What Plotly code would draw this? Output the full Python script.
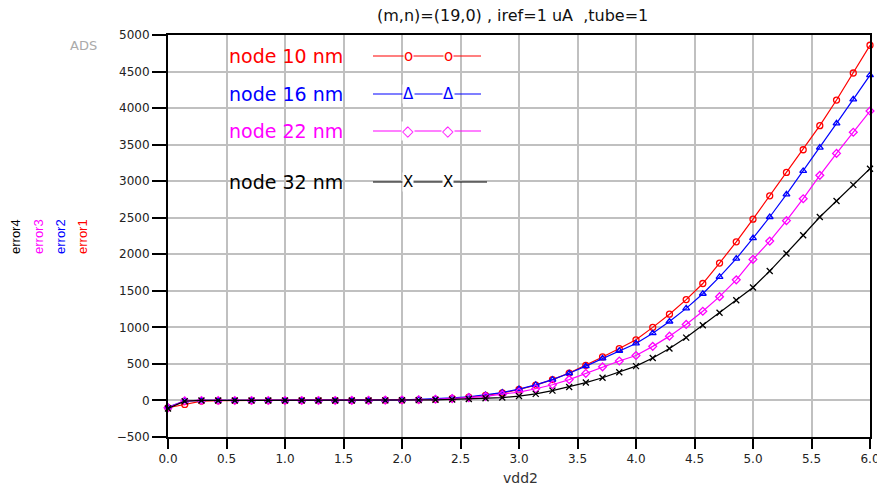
import plotly.graph_objects as go

# ---- data ----
vdd2 = [0, 0.143, 0.286, 0.429, 0.571, 0.714, 0.857, 1.0, 1.143, 1.286, 1.429,
        1.571, 1.714, 1.857, 2.0, 2.143, 2.286, 2.429, 2.571, 2.714, 2.857, 3.0,
        3.143, 3.286, 3.429, 3.571, 3.714, 3.857, 4.0, 4.143, 4.286, 4.429, 4.571,
        4.714, 4.857, 5.0, 5.143, 5.286, 5.429, 5.571, 5.714, 5.857, 6.0]

error1 = [-100, -55, -8, -3, -2, -2, -1, -1, 0, 0, 0, 1, 2, 3, 5, 9, 16, 27, 44, 68,
          102, 150, 210, 285, 375, 480, 595, 710, 830, 1000, 1180, 1380, 1600, 1880,
          2170, 2480, 2800, 3120, 3430, 3760, 4110, 4480, 4860]
error2 = [-90, -5, 0, 0, 0, 0, 0, 0, 0, 0, 0, 2, 4, 6, 9, 14, 22, 34, 51, 75, 108,
          155, 213, 285, 372, 470, 575, 680, 780, 920, 1080, 1260, 1460, 1690, 1940,
          2220, 2510, 2820, 3140, 3460, 3790, 4120, 4450]
error3 = [-100, -5, 0, 0, 0, 0, 0, 0, 0, 0, 0, 1, 2, 4, 6, 10, 16, 25, 38, 55, 80,
          115, 160, 215, 285, 370, 460, 540, 615, 740, 880, 1040, 1220, 1420, 1650,
          1930, 2180, 2460, 2760, 3080, 3380, 3670, 3960]
error4 = [-110, -10, 0, 0, 0, 0, 0, 0, 0, 0, 0, 0, 0, 1, 3, 5, 9, 14, 21, 30, 40,
          60, 90, 135, 185, 245, 310, 385, 470, 580, 710, 860, 1030, 1200, 1370,
          1545, 1770, 2010, 2260, 2510, 2730, 2950, 3170]

series_names = ["error1", "error2", "error3", "error4"]
legend_labels = ["node 10 nm", "node 16 nm", "node 22 nm", "node 32 nm"]
legend_glyphs = ["o", "Δ", "◇", "X"]
colors = ["#ff0000", "#0000ff", "#ff00ff", "#000000"]
symbols = ["circle-open", "triangle-up-open", "diamond-open", "x-thin-open"]

x_ticks = [0, 0.5, 1.0, 1.5, 2.0, 2.5, 3.0, 3.5, 4.0, 4.5, 5.0, 5.5, 6.0]
y_ticks = [-500, 0, 500, 1000, 1500, 2000, 2500, 3000, 3500, 4000, 4500, 5000]

title_text = "(m,n)=(19,0) , iref=1 uA \u00a0,tube=1"

# ---- layout geometry helpers (pixel -> paper) ----
W, H = 877, 490
L, R, T, B = 168, 7, 35, 53
PW, PH = W - L - R, H - T - B


def px(x):
    return (x - L) / PW


def py(y):
    return (H - B - y) / PH


fig = go.Figure()
for ys, c, s, n in zip([error1, error2, error3, error4], colors, symbols, series_names):
    fig.add_trace(go.Scatter(
        x=vdd2, y=ys, name=n, mode="lines+markers",
        line=dict(color=c, width=1.2),
        marker=dict(symbol=s, size=6, color=c, line=dict(color=c, width=1.3)),
        cliponaxis=False,
    ))

font_main = "DejaVu Sans"
annotations = []
shapes = []

# title
annotations.append(dict(text=title_text, xref="paper", yref="paper", x=px(512), y=py(15),
                        xanchor="center", yanchor="middle", showarrow=False,
                        font=dict(family=font_main, size=16, color="#111")))
# ADS
annotations.append(dict(text="ADS", xref="paper", yref="paper", x=px(83), y=py(45),
                        xanchor="center", yanchor="middle", showarrow=False,
                        font=dict(family=font_main, size=13, color="#aaaaaa")))
# x-axis title
annotations.append(dict(text="vdd2", xref="paper", yref="paper", x=px(520), y=py(478),
                        xanchor="center", yanchor="middle", showarrow=False,
                        font=dict(family=font_main, size=14, color="#333")))
# y-axis stacked titles
for name, c, xc in zip(series_names[::-1], colors[::-1], [15, 38, 60, 82]):
    annotations.append(dict(text=name, xref="paper", yref="paper", x=px(xc), y=py(237),
                            xanchor="center", yanchor="middle", showarrow=False, textangle=-90,
                            font=dict(family="Liberation Sans", size=13, color=c)))

# in-plot legend
leg_y = [56, 94, 131, 182]
for lab, g, c, yy in zip(legend_labels, legend_glyphs, colors, leg_y):
    annotations.append(dict(text=lab, xref="paper", yref="paper", x=px(227), y=py(yy),
                            xanchor="left", yanchor="middle", showarrow=False,
                            font=dict(family=font_main, size=19, color=c)))
    x_end = 487 if c == "#000000" else 481
    shapes.append(dict(type="line", xref="paper", yref="paper", x0=px(373), x1=px(x_end),
                       y0=py(yy), y1=py(yy), line=dict(color=c, width=1.2)))
    for gx in [408, 448]:
        annotations.append(dict(text=g, xref="paper", yref="paper", x=px(gx), y=py(yy),
                                xanchor="center", yanchor="middle", showarrow=False,
                                bgcolor="white", borderpad=0,
                                font=dict(family=font_main, size=15, color=c)))

axis_common = dict(showline=True, linecolor="black", linewidth=2, mirror=True,
                   ticks="outside", tickcolor="black", tickwidth=2,
                   showgrid=True, gridcolor="#c0c0c0", gridwidth=2, zeroline=False,
                   automargin=False,
                   tickfont=dict(family=font_main, size=12, color="#222"))

fig.update_layout(
    width=W, height=H,
    margin=dict(l=L, r=R, t=T, b=B, autoexpand=False),
    paper_bgcolor="white", plot_bgcolor="white",
    showlegend=False,
    xaxis=dict(range=[0, 6], tickvals=x_ticks, tickformat=".1f", ticklen=10,
               ticklabeloverflow="allow", **axis_common),
    yaxis=dict(range=[-500, 5000], tickvals=y_ticks, tickformat="d", ticklen=14, **axis_common),
    annotations=annotations,
    shapes=shapes,
)

fig.write_html("out.html")
